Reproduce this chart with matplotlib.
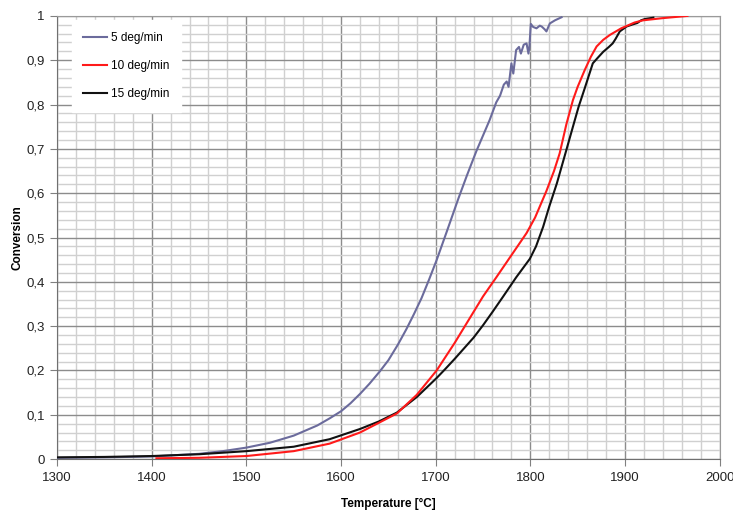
import matplotlib
matplotlib.use("Agg")
import matplotlib.pyplot as plt
from matplotlib.ticker import MultipleLocator, FuncFormatter

plt.rcParams['font.family'] = ['Liberation Sans', 'DejaVu Sans']

# 5 deg/min
t5 = [1300, 1350, 1400, 1450, 1475, 1500, 1525, 1550, 1575, 1588, 1600, 1610, 1620, 1630,
      1641, 1650, 1660, 1669, 1677, 1685, 1693, 1701, 1712, 1724, 1733, 1743, 1750, 1757,
      1764, 1768, 1772, 1775, 1777, 1780, 1782, 1785, 1788, 1790, 1793, 1796, 1798, 1799,
      1800.5, 1803, 1806.5, 1810, 1812, 1815, 1817, 1820.6, 1826, 1833]
c5 = [0.003, 0.004, 0.006, 0.012, 0.018, 0.026, 0.037, 0.053, 0.076, 0.092, 0.108, 0.126, 0.147, 0.170,
      0.198, 0.223, 0.258, 0.293, 0.327, 0.363, 0.405, 0.449, 0.515, 0.588, 0.64, 0.695, 0.73, 0.765,
      0.805, 0.82, 0.845, 0.852, 0.84, 0.893, 0.87, 0.923, 0.93, 0.915, 0.935, 0.938, 0.915, 0.93,
      0.982, 0.975, 0.972, 0.978, 0.976, 0.97, 0.965, 0.983, 0.99, 0.997]

# 10 deg/min
t10 = [1405, 1450, 1500, 1550, 1588, 1620, 1640, 1659, 1680, 1701, 1720, 1736, 1750, 1764,
       1780, 1796, 1805, 1817, 1825, 1831, 1838, 1845, 1850, 1857.5, 1864, 1870, 1877, 1884,
       1896, 1910, 1919, 1940, 1966]
c10 = [0.002, 0.003, 0.007, 0.018, 0.035, 0.06, 0.082, 0.103, 0.145, 0.20, 0.262, 0.318, 0.367, 0.41,
       0.46, 0.51, 0.545, 0.605, 0.65, 0.69, 0.755, 0.81, 0.84, 0.878, 0.908, 0.931, 0.946, 0.957,
       0.972, 0.985, 0.99, 0.995, 1.0]

# 15 deg/min
t15 = [1300, 1350, 1400, 1450, 1500, 1550, 1588, 1620, 1640, 1659, 1680, 1701, 1710, 1720,
       1730, 1740, 1750, 1760, 1771, 1785, 1799.5, 1806, 1813.5, 1820, 1828, 1838, 1845, 1851,
       1857.5, 1866, 1871, 1877, 1883, 1887, 1890, 1894.5, 1901.6, 1907, 1913, 1917, 1921, 1930]
c15 = [0.004, 0.005, 0.007, 0.011, 0.018, 0.028, 0.045, 0.068, 0.085, 0.105, 0.14, 0.183, 0.203, 0.226,
       0.25, 0.274, 0.302, 0.332, 0.366, 0.41, 0.452, 0.48, 0.524, 0.57, 0.622, 0.697, 0.75, 0.795,
       0.837, 0.893, 0.905, 0.919, 0.93, 0.938, 0.948, 0.965, 0.976, 0.98, 0.984, 0.99, 0.993, 0.996]

labels = ['5 deg/min', '10 deg/min', '15 deg/min']
colors = ['#6b6b9c', '#ff1a1a', '#111111']

fig = plt.figure(figsize=(7.33, 5.13), dpi=100)
ax = fig.add_axes([0.0778, 0.105, 0.904, 0.864])

ax.plot(t5, c5, color=colors[0], lw=1.5, label=labels[0], zorder=3)
ax.plot(t10, c10, color=colors[1], lw=1.5, label=labels[1], zorder=4)
ax.plot(t15, c15, color=colors[2], lw=1.5, label=labels[2], zorder=3)

ax.set_xlim(1300, 2000)
ax.set_ylim(0, 1)
ax.xaxis.set_major_locator(MultipleLocator(100))
ax.xaxis.set_minor_locator(MultipleLocator(20))
ax.yaxis.set_major_locator(MultipleLocator(0.1))
ax.yaxis.set_minor_locator(MultipleLocator(0.02))

def yfmt(v, pos):
    s = f"{v:.1f}"
    if s.endswith('.0'):
        s = s[:-2]
    return s.replace('.', ',')
ax.yaxis.set_major_formatter(FuncFormatter(yfmt))

ax.grid(which='major', color='#8c8c8c', lw=1.0, zorder=1)
ax.grid(which='minor', color='#d0d0d0', lw=1.0, zorder=0)
ax.set_axisbelow(True)

ax.tick_params(which='major', direction='out', length=5, color='#808080', labelsize=9.5,
               labelcolor='#222222', pad=4)
ax.tick_params(which='minor', length=0)
for side in ['left', 'bottom']:
    ax.spines[side].set_color('#707070')
for side in ['top', 'right']:
    ax.spines[side].set_color('#9a9a9a')

ax.set_xlabel('Temperature [°C]', fontsize=8.5, fontweight='bold', labelpad=10)
ax.set_ylabel('Conversion', fontsize=8.5, fontweight='bold', labelpad=2)

leg = ax.legend(loc='upper left', bbox_to_anchor=(0.022, 0.99), frameon=True, fancybox=False,
                edgecolor='white', facecolor='white', framealpha=1.0, fontsize=8.5,
                handlelength=2.0, handletextpad=0.3, labelspacing=1.35, borderpad=1.0,
                borderaxespad=0.0)
leg.set_zorder(5)

fig.savefig('out.png', dpi=100)
